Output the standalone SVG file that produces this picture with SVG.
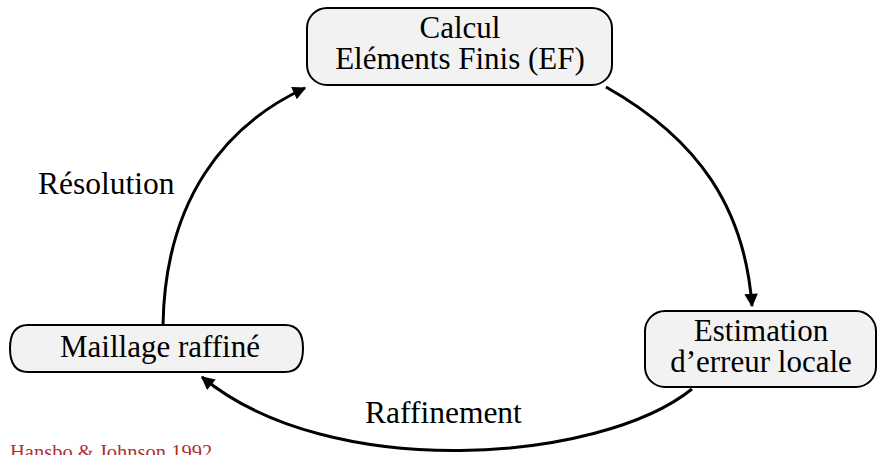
<svg xmlns="http://www.w3.org/2000/svg" width="878" height="455" viewBox="0 0 878 455">
<style>
.box{fill:#f2f2f2;stroke:#000;stroke-width:2}
.t{font-family:"Liberation Serif","Times New Roman",serif;font-size:31px;fill:#000;text-anchor:middle}
.lbl{font-family:"Liberation Serif","Times New Roman",serif;font-size:31.5px;fill:#000}
.edge{fill:none;stroke:#000;stroke-width:3;marker-end:url(#ah)}
</style>
<defs>
<marker id="ah" viewBox="0 0 10 10" refX="9" refY="5" markerWidth="5.5" markerHeight="4.5" orient="auto" markerUnits="strokeWidth">
<path d="M0,0 L10,5 L0,10 z" fill="#000"/>
</marker>
</defs>
<rect width="878" height="455" fill="#fff"/>
<g id="connectors">
<path class="edge" d="M163,325 C165,200 225,125 305,88"/>
<path class="edge" d="M606,87 C700,140 745,210 752,306"/>
<path class="edge" d="M692,389 C600,463 330,483 202,377"/>
</g>
<g id="calcul">
<rect class="box" x="307" y="8" width="305" height="77" rx="20"/>
<text class="t" x="460" y="38">Calcul</text>
<text class="t" x="460" y="69">Eléments Finis (EF)</text>
</g>
<g id="estimation">
<rect class="box" x="645" y="311" width="231" height="76" rx="20"/>
<text class="t" x="761" y="341">Estimation</text>
<text class="t" x="761" y="372">d’erreur locale</text>
</g>
<g id="maillage">
<path class="box" d="M28,325 H285 Q303,325 303,348.5 Q303,372 285,372 H28 Q10,372 10,348.5 Q10,325 28,325 Z"/>
<text class="t" x="160" y="357">Maillage raffiné</text>
</g>
<g id="labels">
<text class="lbl" x="38" y="194">Résolution</text>
<text class="lbl" x="365" y="423">Raffinement</text>
<text x="10" y="459" font-family="Liberation Serif, serif" font-size="20.5" fill="#b03030">Hansbo &amp; Johnson 1992</text>
</g>
</svg>
